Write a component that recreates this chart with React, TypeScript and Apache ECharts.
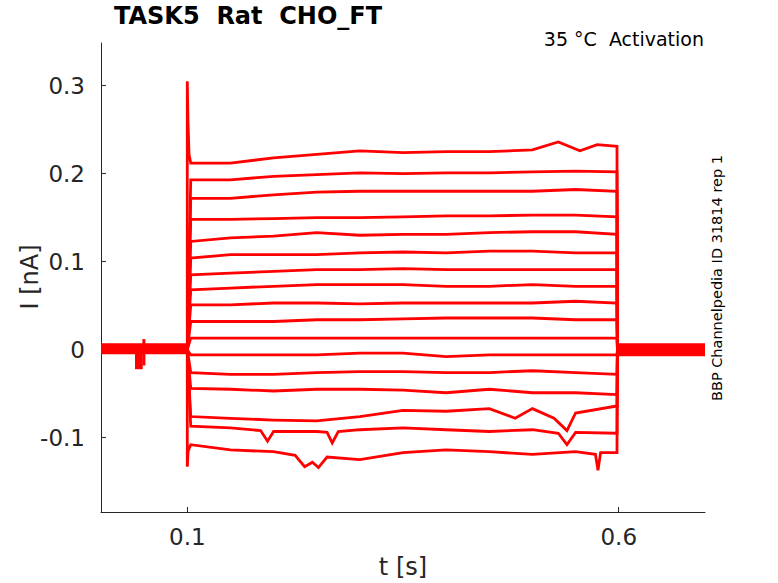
import React, { useEffect, useRef } from "react";
import * as echarts from "echarts";

// Tick values
const X_TICKS = [0.1, 0.6];
const Y_TICKS = [-0.1, 0, 0.1, 0.2, 0.3];

// Holding baseline before and after the pulse [t, I]
const PRE_BASELINE = [[0, 0.001], [0.1, 0.001]];
const PRE_DIP = [[0.0394, -0.012], [0.0483, -0.012]];
const PRE_BLIP = [[0.0497, -0.018], [0.0497, 0.012]];
const POST_BASELINE = [[0.5985, 0], [0.7, 0]];

// Pulse traces [t, I]
const TRACE_01 = [[0.1, 0.305], [0.1008, 0.26], [0.102, 0.222], [0.104, 0.212], [0.11, 0.212], [0.15, 0.212], [0.2, 0.218], [0.25, 0.222], [0.3, 0.226], [0.35, 0.224], [0.4, 0.225], [0.45, 0.225], [0.5, 0.227], [0.53, 0.236], [0.555, 0.226], [0.575, 0.233], [0.598, 0.231]];
const TRACE_02 = [[0.104, 0.193], [0.15, 0.193], [0.2, 0.197], [0.25, 0.199], [0.3, 0.201], [0.35, 0.2], [0.4, 0.201], [0.45, 0.201], [0.5, 0.202], [0.55, 0.203], [0.598, 0.202]];
const TRACE_03 = [[0.104, 0.172], [0.15, 0.172], [0.2, 0.176], [0.25, 0.179], [0.3, 0.18], [0.35, 0.18], [0.4, 0.18], [0.45, 0.18], [0.5, 0.18], [0.55, 0.182], [0.598, 0.18]];
const TRACE_04 = [[0.104, 0.148], [0.15, 0.148], [0.2, 0.149], [0.25, 0.15], [0.3, 0.15], [0.35, 0.151], [0.4, 0.152], [0.45, 0.152], [0.5, 0.153], [0.55, 0.153], [0.598, 0.151]];
const TRACE_05 = [[0.104, 0.123], [0.15, 0.127], [0.2, 0.129], [0.25, 0.133], [0.3, 0.13], [0.35, 0.131], [0.4, 0.131], [0.45, 0.133], [0.5, 0.134], [0.55, 0.134], [0.598, 0.131]];
const TRACE_06 = [[0.104, 0.104], [0.15, 0.108], [0.2, 0.108], [0.25, 0.108], [0.3, 0.11], [0.35, 0.111], [0.4, 0.11], [0.45, 0.112], [0.5, 0.112], [0.55, 0.11], [0.598, 0.11]];
const TRACE_07 = [[0.104, 0.085], [0.15, 0.087], [0.2, 0.089], [0.25, 0.091], [0.3, 0.091], [0.35, 0.092], [0.4, 0.091], [0.45, 0.091], [0.5, 0.091], [0.55, 0.091], [0.598, 0.091]];
const TRACE_08 = [[0.104, 0.068], [0.15, 0.07], [0.2, 0.072], [0.25, 0.074], [0.3, 0.074], [0.35, 0.074], [0.4, 0.072], [0.45, 0.072], [0.5, 0.074], [0.55, 0.072], [0.598, 0.072]];
const TRACE_09 = [[0.104, 0.051], [0.15, 0.051], [0.2, 0.053], [0.25, 0.053], [0.3, 0.052], [0.35, 0.053], [0.4, 0.053], [0.45, 0.053], [0.5, 0.053], [0.55, 0.055], [0.598, 0.053]];
const TRACE_10 = [[0.104, 0.032], [0.15, 0.032], [0.2, 0.032], [0.25, 0.034], [0.3, 0.034], [0.35, 0.035], [0.4, 0.036], [0.45, 0.036], [0.5, 0.036], [0.55, 0.034], [0.598, 0.034]];
const TRACE_11 = [[0.104, 0.013], [0.15, 0.013], [0.2, 0.013], [0.25, 0.013], [0.3, 0.013], [0.35, 0.013], [0.4, 0.013], [0.45, 0.013], [0.5, 0.013], [0.55, 0.013], [0.598, 0.013]];
const TRACE_12 = [[0.104, -0.006], [0.15, -0.006], [0.2, -0.006], [0.25, -0.006], [0.3, -0.004], [0.35, -0.004], [0.4, -0.008], [0.45, -0.006], [0.5, -0.006], [0.55, -0.006], [0.598, -0.006]];
const TRACE_13 = [[0.104, -0.026], [0.15, -0.028], [0.2, -0.028], [0.25, -0.026], [0.3, -0.025], [0.35, -0.025], [0.4, -0.026], [0.45, -0.026], [0.5, -0.024], [0.55, -0.026], [0.598, -0.028]];
const TRACE_14 = [[0.104, -0.044], [0.15, -0.045], [0.2, -0.047], [0.25, -0.045], [0.3, -0.045], [0.35, -0.046], [0.4, -0.049], [0.45, -0.045], [0.5, -0.049], [0.55, -0.049], [0.598, -0.051]];
const TRACE_15 = [[0.104, -0.076], [0.15, -0.078], [0.2, -0.08], [0.25, -0.081], [0.3, -0.076], [0.35, -0.069], [0.4, -0.07], [0.45, -0.067], [0.48, -0.078], [0.5, -0.067], [0.525, -0.078], [0.54, -0.092], [0.55, -0.072], [0.598, -0.064]];
const TRACE_16 = [[0.104, -0.087], [0.15, -0.089], [0.185, -0.092], [0.193, -0.104], [0.2, -0.093], [0.25, -0.093], [0.262, -0.094], [0.268, -0.106], [0.275, -0.093], [0.3, -0.091], [0.35, -0.089], [0.4, -0.091], [0.45, -0.093], [0.5, -0.091], [0.53, -0.095], [0.54, -0.108], [0.55, -0.094], [0.598, -0.095]];
const TRACE_17 = [[0.1, -0.133], [0.101, -0.115], [0.104, -0.108], [0.15, -0.114], [0.2, -0.116], [0.225, -0.12], [0.236, -0.133], [0.245, -0.128], [0.252, -0.134], [0.262, -0.122], [0.3, -0.125], [0.35, -0.117], [0.4, -0.114], [0.45, -0.116], [0.5, -0.119], [0.55, -0.116], [0.573, -0.119], [0.576, -0.137], [0.579, -0.117], [0.598, -0.117]];

const TRACES = [
  TRACE_01, TRACE_02, TRACE_03, TRACE_04, TRACE_05, TRACE_06, TRACE_07, TRACE_08, TRACE_09,
  TRACE_10, TRACE_11, TRACE_12, TRACE_13, TRACE_14, TRACE_15, TRACE_16, TRACE_17,
];

const RED = "#ff0000";
const INK = "#262626";
const FONT = "DejaVu Sans";

const flat = (data: number[][], width: number, z = 2) => ({
  type: "line",
  data,
  showSymbol: false,
  symbol: "none",
  lineStyle: { color: RED, width, cap: "butt", join: "miter" },
  silent: true,
  z,
});

export default function App() {
  const ref = useRef<HTMLDivElement>(null);

  useEffect(() => {
    document.body.style.margin = "0";
    if (!ref.current) return;
    const chart = echarts.init(ref.current, undefined, { renderer: "svg" });

    const traceSeries = TRACES.map((tr) => {
      const last = tr[tr.length - 1];
      return flat([[0.1, 0], ...tr, [last[0] + 0.0005, 0]], 2.8, 3);
    });

    chart.setOption({
      animation: false,
      grid: { left: 101, right: 73, top: 43, bottom: 71 },
      xAxis: {
        type: "value",
        min: 0,
        max: 0.7,
        axisLine: { show: true, onZero: false, lineStyle: { color: INK, width: 1 } },
        axisTick: { show: true, inside: true, length: 5, lineStyle: { color: INK }, customValues: X_TICKS },
        axisLabel: {
          customValues: X_TICKS,
          color: INK,
          fontSize: 23,
          fontFamily: FONT,
          margin: 13,
          formatter: (v: number) => String(v),
        },
        splitLine: { show: false },
      },
      yAxis: {
        type: "value",
        min: -0.1845,
        max: 0.3485,
        axisLine: { show: true, onZero: false, lineStyle: { color: INK, width: 1 } },
        axisTick: { show: true, inside: true, length: 5, lineStyle: { color: INK }, customValues: Y_TICKS },
        axisLabel: {
          customValues: Y_TICKS,
          color: INK,
          fontSize: 23,
          fontFamily: FONT,
          margin: 16,
          formatter: (v: number) => (Math.abs(v) < 1e-9 ? "0" : String(v)),
        },
        splitLine: { show: false },
      },
      series: [
        flat(PRE_BASELINE, 11),
        flat(PRE_DIP, 18),
        flat(PRE_BLIP, 3),
        flat(POST_BASELINE, 13),
        ...traceSeries,
      ],
      graphic: [
        {
          type: "text",
          left: 114,
          top: 4,
          style: { text: "TASK5  Rat  CHO_FT", font: `bold 24px ${FONT}`, fill: "#000" },
        },
        {
          type: "text",
          right: 74,
          top: 29,
          style: { text: "35 °C  Activation", font: `19px ${FONT}`, fill: "#000" },
        },
        {
          type: "text",
          x: 717,
          y: 278,
          rotation: Math.PI / 2,
          style: {
            text: "BBP Channelpedia ID 31814 rep 1",
            font: `14.5px ${FONT}`,
            fill: "#000",
            align: "center",
            verticalAlign: "middle",
          },
        },
        {
          type: "text",
          x: 30,
          y: 277,
          rotation: Math.PI / 2,
          style: { text: "I [nA]", font: `24px ${FONT}`, fill: INK, align: "center", verticalAlign: "middle" },
        },
        {
          type: "text",
          x: 403,
          y: 567,
          style: { text: "t [s]", font: `24px ${FONT}`, fill: INK, align: "center", verticalAlign: "middle" },
        },
      ],
    });

    return () => chart.dispose();
  }, []);

  return <div ref={ref} style={{ width: 778, height: 583 }} />;
}
